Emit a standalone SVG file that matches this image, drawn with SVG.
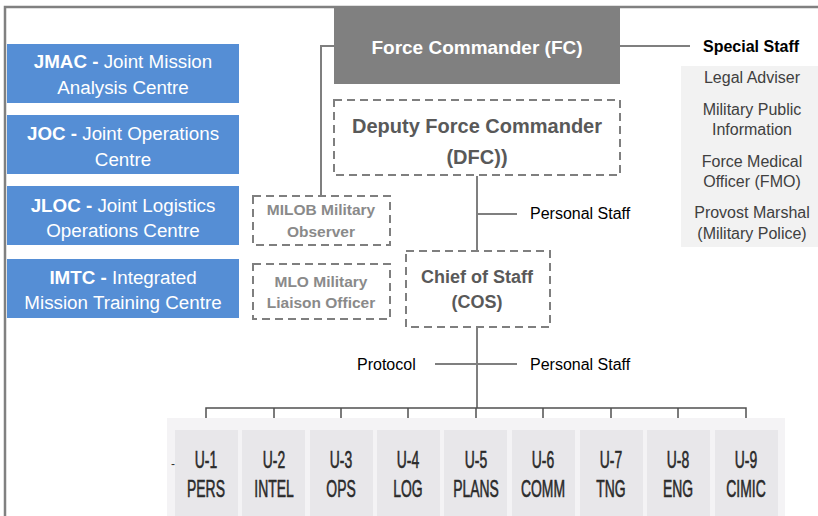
<svg xmlns="http://www.w3.org/2000/svg" width="818" height="516" viewBox="0 0 818 516">
<style>
.blue{fill:#558ed5}
.bt{font-family:"Liberation Sans",Arial,sans-serif;font-size:18.8px;fill:#fff;text-anchor:middle}
.b{font-weight:bold}
.dash{fill:#fff;stroke:#7f7f7f;stroke-width:2;stroke-dasharray:8 5}
.gt{font-family:"Liberation Sans",Arial,sans-serif;font-weight:bold;text-anchor:middle;fill:#595959}
.lt{font-family:"Liberation Sans",Arial,sans-serif;font-weight:bold;font-size:15.5px;text-anchor:middle;fill:#8a8a8a}
.st{font-family:"Liberation Sans",Arial,sans-serif;font-size:16px;text-anchor:middle;fill:#404040}
.pt{font-family:"Liberation Sans",Arial,sans-serif;font-size:16px;fill:#000}
.conn{fill:none;stroke:#7f7f7f;stroke-width:2}
.bus{fill:none;stroke:#505050;stroke-width:1.5}
.ub{fill:#e8e7ea}
.ut{font-family:"Liberation Sans",Arial,sans-serif;font-size:24px;text-anchor:middle;fill:#2a2a2a;stroke:#2a2a2a;stroke-width:0.6}
</style>
<rect width="818" height="516" fill="#fff"/>
<path d="M5,516 V7 H818" fill="none" stroke="#808080" stroke-width="2.5"/>

<g id="connectors">
<path class="conn" d="M334,46 H321 V196"/>
<path class="conn" d="M620,46 H690"/>
<path class="conn" d="M477,176 V251"/>
<path class="conn" d="M477,214 H517"/>
<path class="conn" d="M477,327 V408"/>
<path class="conn" d="M435,364 H517"/>
<path class="bus" d="M206,430 V408 H746 V430 M274,408 V430 M341,408 V430 M408,408 V430 M476,408 V430 M543,408 V430 M611,408 V430 M678,408 V430"/>
</g>

<g id="jmac"><rect class="blue" x="7" y="44" width="232" height="59"/>
<text class="bt" x="123" y="68"><tspan class="b">JMAC -</tspan> Joint Mission</text>
<text class="bt" x="123" y="94">Analysis Centre</text></g>
<g id="joc"><rect class="blue" x="7" y="115" width="232" height="59"/>
<text class="bt" x="123" y="140"><tspan class="b">JOC -</tspan> Joint Operations</text>
<text class="bt" x="123" y="166">Centre</text></g>
<g id="jloc"><rect class="blue" x="7" y="186" width="232" height="59"/>
<text class="bt" x="123" y="212"><tspan class="b">JLOC -</tspan> Joint Logistics</text>
<text class="bt" x="123" y="237">Operations Centre</text></g>
<g id="imtc"><rect class="blue" x="7" y="259" width="232" height="59"/>
<text class="bt" x="123" y="284"><tspan class="b">IMTC -</tspan> Integrated</text>
<text class="bt" x="123" y="309">Mission Training Centre</text></g>

<g id="fc"><rect x="334" y="8" width="286" height="76" fill="#808080"/>
<text class="gt" x="477" y="54" font-size="19" style="fill:#fff">Force Commander (FC)</text></g>

<g id="dfc"><rect class="dash" x="334" y="100" width="286" height="75"/>
<text class="gt" x="477" y="133" font-size="20">Deputy Force Commander</text>
<text class="gt" x="477" y="164" font-size="20">(DFC))</text></g>

<g id="milob"><rect class="dash" x="253" y="196" width="137" height="49"/>
<text class="lt" x="321" y="215">MILOB Military</text>
<text class="lt" x="321" y="237">Observer</text></g>
<g id="mlo"><rect class="dash" x="253" y="264" width="137" height="55"/>
<text class="lt" x="321" y="287">MLO Military</text>
<text class="lt" x="321" y="308">Liaison Officer</text></g>

<g id="cos"><rect class="dash" x="406" y="251" width="144" height="76"/>
<text class="gt" x="477" y="283" font-size="18">Chief of Staff</text>
<text class="gt" x="477" y="308" font-size="18">(COS)</text></g>

<g id="special-staff">
<text x="703" y="52" font-family="Liberation Sans,Arial,sans-serif" font-size="16" font-weight="bold" fill="#000">Special Staff</text>
<rect x="681" y="66" width="137" height="181" fill="#f2f2f2"/>
<text class="st" x="752" y="83">Legal Adviser</text>
<text class="st" x="752" y="115">Military Public</text>
<text class="st" x="752" y="135">Information</text>
<text class="st" x="752" y="167">Force Medical</text>
<text class="st" x="752" y="187">Officer (FMO)</text>
<text class="st" x="752" y="218">Provost Marshal</text>
<text class="st" x="752" y="239">(Military Police)</text>
</g>

<g id="labels">
<text class="pt" x="530" y="219">Personal Staff</text>
<text class="pt" x="357" y="370">Protocol</text>
<text class="pt" x="530" y="370">Personal Staff</text>
</g>

<g id="units">
<rect x="167" y="418" width="618" height="98" fill="#f4f3f5"/>
<text x="173" y="468" font-family="Liberation Sans,Arial,sans-serif" font-size="12" fill="#333" text-anchor="middle">-</text>
<g id="u1"><rect class="ub" x="175" y="430" width="63" height="86"/><g transform="translate(206,0) scale(0.58,1)"><text class="ut" x="0" y="468">U-1</text><text class="ut" x="0" y="497">PERS</text></g></g>
<g id="u2"><rect class="ub" x="242" y="430" width="63" height="86"/><g transform="translate(274,0) scale(0.58,1)"><text class="ut" x="0" y="468">U-2</text><text class="ut" x="0" y="497">INTEL</text></g></g>
<g id="u3"><rect class="ub" x="310" y="430" width="63" height="86"/><g transform="translate(341,0) scale(0.58,1)"><text class="ut" x="0" y="468">U-3</text><text class="ut" x="0" y="497">OPS</text></g></g>
<g id="u4"><rect class="ub" x="377" y="430" width="63" height="86"/><g transform="translate(408,0) scale(0.58,1)"><text class="ut" x="0" y="468">U-4</text><text class="ut" x="0" y="497">LOG</text></g></g>
<g id="u5"><rect class="ub" x="444" y="430" width="63" height="86"/><g transform="translate(476,0) scale(0.58,1)"><text class="ut" x="0" y="468">U-5</text><text class="ut" x="0" y="497">PLANS</text></g></g>
<g id="u6"><rect class="ub" x="512" y="430" width="63" height="86"/><g transform="translate(543,0) scale(0.58,1)"><text class="ut" x="0" y="468">U-6</text><text class="ut" x="0" y="497">COMM</text></g></g>
<g id="u7"><rect class="ub" x="580" y="430" width="63" height="86"/><g transform="translate(611,0) scale(0.58,1)"><text class="ut" x="0" y="468">U-7</text><text class="ut" x="0" y="497">TNG</text></g></g>
<g id="u8"><rect class="ub" x="647" y="430" width="63" height="86"/><g transform="translate(678,0) scale(0.58,1)"><text class="ut" x="0" y="468">U-8</text><text class="ut" x="0" y="497">ENG</text></g></g>
<g id="u9"><rect class="ub" x="715" y="430" width="63" height="86"/><g transform="translate(746,0) scale(0.58,1)"><text class="ut" x="0" y="468">U-9</text><text class="ut" x="0" y="497">CIMIC</text></g></g>
</g>
</svg>
